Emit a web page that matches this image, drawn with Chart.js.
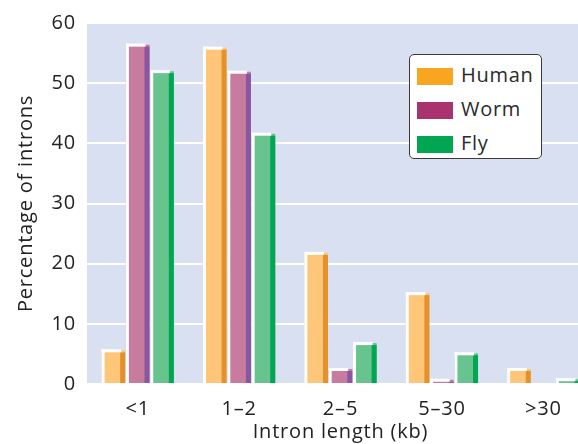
<!DOCTYPE html>
<html>
<head>
<meta charset="utf-8">
<script src="https://cdn.jsdelivr.net/npm/chart.js@4/dist/chart.umd.min.js"></script>
<style>
  html, body { margin: 0; padding: 0; background: #ffffff; overflow: hidden; width: 578px; height: 444px; }
  #wrap { position: relative; width: 600px; height: 444px; }
  #legend {
    position: absolute; left: 409px; top: 54px; width: 131px; height: 103px;
    background: #ffffff; border: 1.5px solid #3a3a3a; border-radius: 5px;
    font-family: "Open Sans", "Noto Sans", sans-serif; font-size: 20px; color: #2a2a2a; letter-spacing: 0.7px;
  }
  .item { position: absolute; left: 7px; height: 18px; line-height: 18px; }
  .sw { position: absolute; left: 0; top: 0; width: 36px; height: 17px; }
  .lbl { position: absolute; left: 44px; top: -2px; white-space: nowrap; }
</style>
</head>
<body>
<div id="wrap">
  <canvas id="c" width="600" height="444"></canvas>
  <div id="legend"></div>
</div>
<script>
const categories = ["<1", "1\u20132", "2\u20135", "5\u201330", ">30"];
const seriesNames = ["Human", "Worm", "Fly"];
const human = [5.6, 55.9, 21.8, 15.1, 2.5];
const worm = [56.4, 51.9, 2.5, 0.7, 0];
const fly = [52.0, 41.6, 6.8, 5.1, 0.8];
const yTicks = [0, 10, 20, 30, 40, 50, 60];

const faceColors = ["#FEC679", "#C77B9F", "#68C48F"];
const sideColors = ["#E6902A", "#8956A2", "#00A651"];
const legendColors = ["#F8A51F", "#A9336E", "#00A651"];

const FONT = '"Open Sans", "Noto Sans", sans-serif';
const SPACING = '0.8px';

const legendEl = document.getElementById('legend');
const rowTops = [13, 47, 81];
seriesNames.forEach((n, i) => {
  const it = document.createElement('div');
  it.className = 'item';
  it.style.top = rowTops[i] + 'px';
  it.innerHTML = '<div class="sw" style="background:' + legendColors[i] + '"></div><div class="lbl">' + n + '</div>';
  legendEl.appendChild(it);
});

const spacingPlugin = {
  id: 'spacing',
  beforeLayout(chart) { chart.ctx.letterSpacing = SPACING; },
  beforeDraw(chart) { chart.ctx.letterSpacing = SPACING; }
};

const bgPlugin = {
  id: 'plotBg',
  beforeDraw(chart) {
    const { ctx, chartArea: a } = chart;
    ctx.save();
    ctx.fillStyle = '#D9E0F1';
    ctx.fillRect(a.left, a.top, a.right - a.left, a.bottom - a.top);
    ctx.restore();
  }
};

const bevelPlugin = {
  id: 'bevel',
  afterDatasetsDraw(chart) {
    const ctx = chart.ctx;
    chart.data.datasets.forEach((ds, di) => {
      const meta = chart.getDatasetMeta(di);
      meta.data.forEach(el => {
        const p = el.getProps(['x', 'y', 'base', 'width'], true);
        const h = p.base - p.y;
        if (h < 0.5) return;
        const left = p.x - p.width / 2, right = p.x + p.width / 2;
        ctx.save();
        ctx.fillStyle = sideColors[di];
        ctx.fillRect(right - 5, p.y + 2, 5, Math.max(0, h - 2));
        ctx.fillStyle = '#ffffff';
        ctx.fillRect(left, p.y - 1, p.width - 4, 3);
        ctx.fillRect(left, p.y - 1, 3, h + 1);
        ctx.restore();
      });
    });
  }
};

new Chart(document.getElementById('c'), {
  type: 'bar',
  data: {
    labels: categories,
    datasets: [
      { label: seriesNames[0], data: human, backgroundColor: faceColors[0] },
      { label: seriesNames[1], data: worm, backgroundColor: faceColors[1] },
      { label: seriesNames[2], data: fly, backgroundColor: faceColors[2] }
    ]
  },
  options: {
    responsive: false,
    animation: false,
    devicePixelRatio: 1,
    layout: { autoPadding: false, padding: { top: 21, right: 6, left: 0, bottom: 0 } },
    datasets: { bar: { categoryPercentage: 0.72, barPercentage: 0.97, borderWidth: 0 } },
    plugins: { legend: { display: false }, tooltip: { enabled: false } },
    scales: {
      x: {
        grid: { display: false, drawTicks: false },
        border: { display: false },
        ticks: { color: '#222', font: { family: FONT, size: 20 }, padding: 13 },
        title: { display: true, text: 'Intron length (kb)', color: '#222', font: { family: FONT, size: 20 }, padding: { top: 0, bottom: 0 } },
        afterFit(s) { s.height = 60; }
      },
      y: {
        min: 0, max: 60,
        afterBuildTicks(s) { s.ticks = yTicks.map(v => ({ value: v })); },
        grid: { color: '#ffffff', lineWidth: 2, drawTicks: false },
        border: { display: false },
        ticks: { color: '#222', font: { family: FONT, size: 20 }, padding: 11 },
        title: { display: true, text: 'Percentage of introns', color: '#222', font: { family: FONT, size: 20 }, padding: { top: 14 } },
        afterFit(s) { s.width = 87; }
      }
    }
  },
  plugins: [spacingPlugin, bgPlugin, bevelPlugin]
});
</script>
</body>
</html>
